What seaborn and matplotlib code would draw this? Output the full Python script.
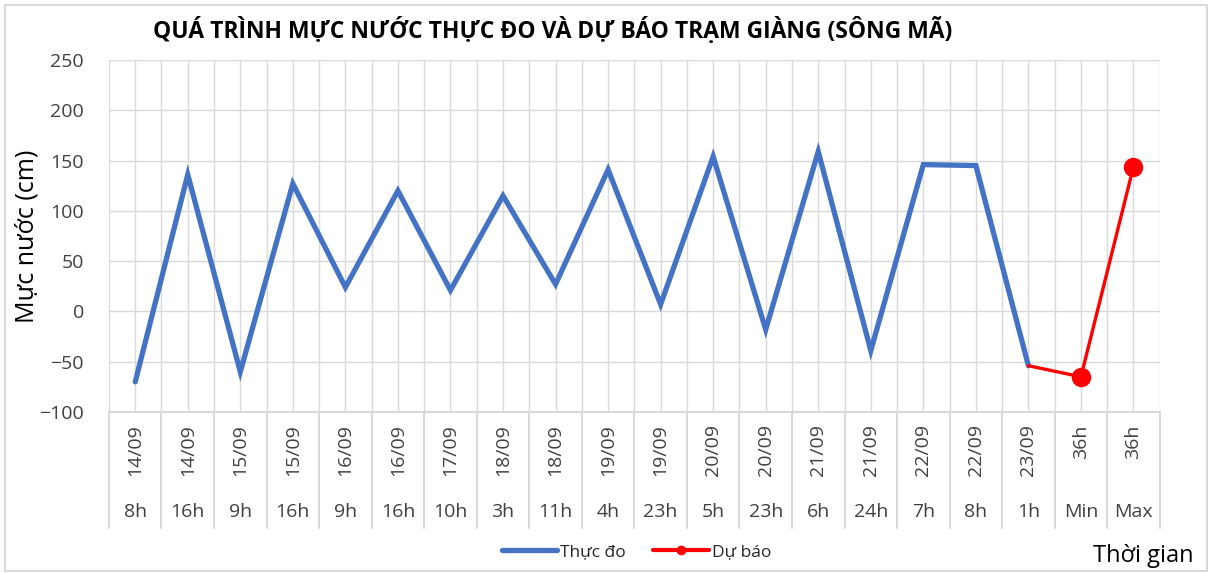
import pandas as pd
import seaborn as sns
import matplotlib.pyplot as plt
from matplotlib.patches import Rectangle
from matplotlib.lines import Line2D

# === Dữ liệu ===
ngay = ['14/09', '14/09', '15/09', '15/09', '16/09', '16/09', '17/09', '18/09', '18/09', '19/09',
        '19/09', '20/09', '20/09', '21/09', '21/09', '22/09', '22/09', '23/09', '36h', '36h']
gio = ['8h', '16h', '9h', '16h', '9h', '16h', '10h', '3h', '11h', '4h',
       '23h', '5h', '23h', '6h', '24h', '7h', '8h', '1h', 'Min', 'Max']
thuc_do = [-70, 136, -60, 127, 24, 120, 21, 115, 27, 141, 7, 154, -18, 159, -39, 146, 145, -54]
du_bao = [-54, -65, 144]
vi_tri_du_bao = [17, 18, 19]

df_td = pd.DataFrame({'x': range(len(thuc_do)), 'muc_nuoc': thuc_do})
df_db = pd.DataFrame({'x': vi_tri_du_bao, 'muc_nuoc': du_bao})

sns.set_style('white')
plt.rcParams['font.family'] = ['Open Sans', 'DejaVu Sans']

fig = plt.figure(figsize=(12.12, 5.73), dpi=100)
ax = fig.add_axes([0.0899, 0.281, 0.867, 0.6143])

# === Đường thực đo và dự báo ===
sns.lineplot(data=df_td, x='x', y='muc_nuoc', ax=ax, color='#4472C4', lw=3.8,
             solid_joinstyle='miter', zorder=3)
sns.lineplot(data=df_db, x='x', y='muc_nuoc', ax=ax, color='#FF0000', lw=2.4, zorder=4)
ax.plot(df_db['x'][1:], df_db['muc_nuoc'][1:], ls='none', marker='o', ms=13,
        color='#FF0000', zorder=5)

n = len(gio)
ax.set_xlim(-0.5, n - 0.5)
ax.set_ylim(-100, 250)
ax.set_yticks(range(-100, 251, 50))
ax.set_xticks(range(n))
ax.set_xticks([i - 0.5 for i in range(n + 1)], minor=True)
ax.grid(True, which='both', color='#D9D9D9', lw=1)
ax.tick_params(axis='x', which='both', length=0, labelbottom=False)
ax.tick_params(axis='y', length=0, labelsize=14, pad=18, colors='#404040')
for s in ['top', 'right', 'left']:
    ax.spines[s].set_visible(False)
ax.spines['bottom'].set_color('#D9D9D9')
ax.spines['bottom'].set_linewidth(1.5)
ax.set_xlabel('')
ax.set_ylabel('Mực nước (cm)', fontsize=18, color='#000000')
ax.yaxis.set_label_coords(-0.066, 0.5)

# === Trục phân loại hai tầng ===
tr = ax.get_xaxis_transform()
for i in range(n + 1):
    ax.plot([i - 0.5, i - 0.5], [0, -0.33], transform=tr, color='#D9D9D9', lw=1.5,
            clip_on=False)
for i in range(n):
    ax.text(i, -0.035, ngay[i], transform=tr, rotation=90, ha='center', va='top',
            fontsize=14, color='#404040')
    ax.text(i, -0.284, gio[i], transform=tr, ha='center', va='center',
            fontsize=14, color='#404040')

# === Tiêu đề, chú giải ===
fig.text(0.456, 0.947, 'QUÁ TRÌNH MỰC NƯỚC THỰC ĐO VÀ DỰ BÁO TRẠM GIÀNG (SÔNG MÃ)',
         ha='center', va='center', fontsize=16.5, fontweight='bold', color='#000000')
fig.text(0.943, 0.03, 'Thời gian', ha='center', va='center', fontsize=17, color='#000000')

handles = [Line2D([], [], color='#4472C4', lw=3.8),
           Line2D([], [], color='#FF0000', lw=3, marker='o', ms=6)]
fig.legend(handles, ['Thực đo', 'Dự báo'], loc='center', bbox_to_anchor=(0.525, 0.037),
           ncol=2, frameon=False, fontsize=12.5, handlelength=3.2, columnspacing=1.6,
           handletextpad=0.15)

fig.patches.append(Rectangle((0.004, 0.004), 0.992, 0.988, transform=fig.transFigure,
                             fill=False, edgecolor='#D9D9D9', lw=1.5))

fig.savefig('out.png', dpi=100)
